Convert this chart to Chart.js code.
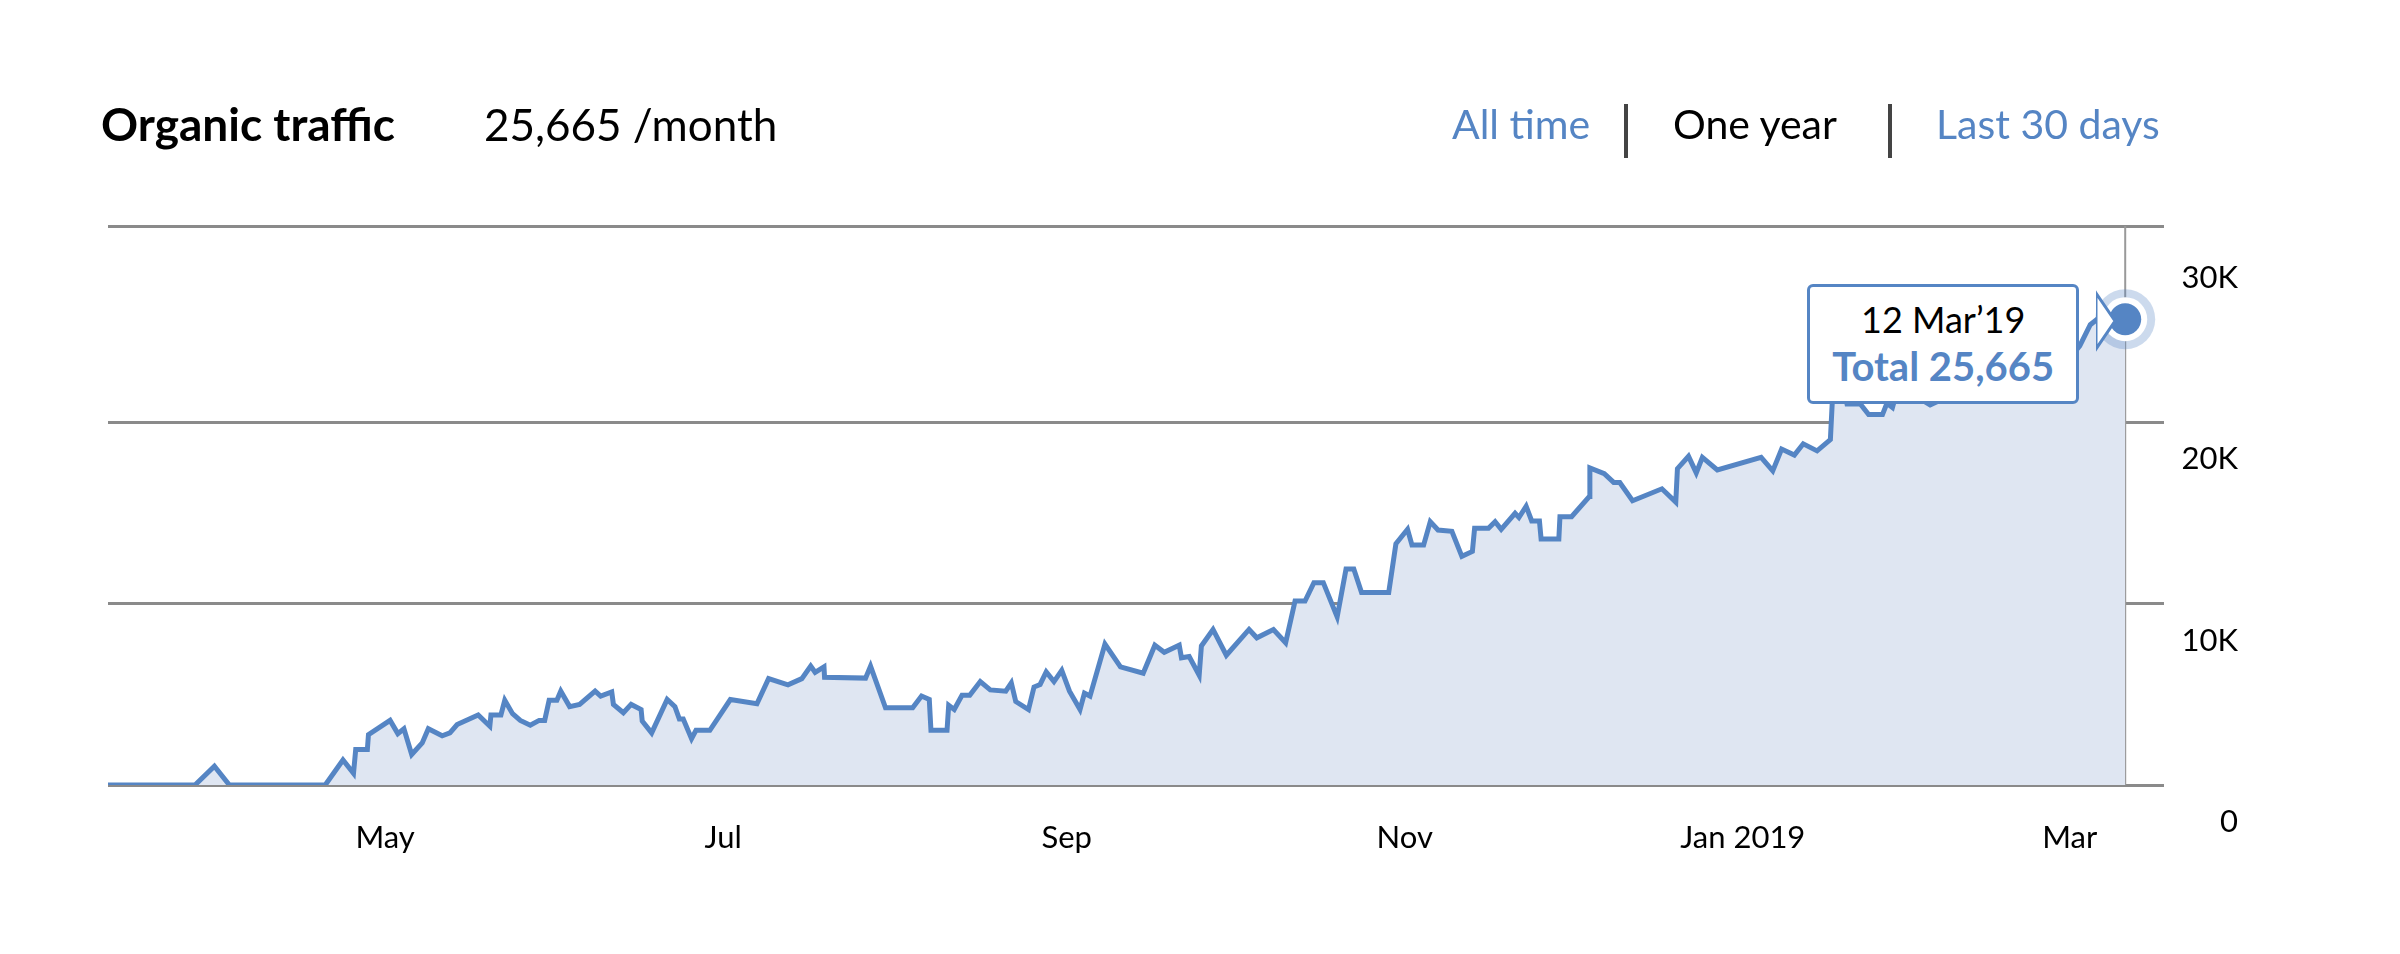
<!DOCTYPE html>
<html>
<head>
<meta charset="utf-8">
<script src="https://cdn.jsdelivr.net/npm/chart.js@4"></script>
<style>
  body { margin: 0; background: #fff; font-family: Lato, "Open Sans", sans-serif; }
  #wrap { position: relative; width: 2400px; height: 954px; }
  canvas { position: absolute; left: 0; top: 0; }
  .hdr { position: absolute; top: 96px; font-size: 44px; line-height: 56px; white-space: nowrap; }
  #tip { position: absolute; width: 266px; height: 114px; border: 3px solid #5585c4; border-radius: 6px;
         background: #fff; text-align: center; box-sizing: content-box; }
  #tip .d { font-size: 36px; color: #000; margin-top: 10px; line-height: 44px; }
  #tip .t { font-size: 40px; color: #5585c4; font-weight: bold; line-height: 50px; }
  #arrow { position: absolute; }
</style>
</head>
<body>
<div id="wrap">
  <canvas id="c" width="2400" height="954"></canvas>
  <div class="hdr" style="left:101px;font-weight:bold;font-size:46px">Organic traffic</div>
  <div class="hdr" style="left:484px">25,665 /month</div>
  <div class="hdr" style="left:1452px;color:#5585c4;font-size:41px">All time</div>
  <div style="position:absolute;left:1624px;top:104px;width:4px;height:54px;background:#444"></div>
  <div class="hdr" style="left:1673px;font-size:41px">One year</div>
  <div style="position:absolute;left:1888px;top:104px;width:4px;height:54px;background:#444"></div>
  <div class="hdr" style="left:1936px;color:#5585c4;font-size:41px">Last 30 days</div>
  <div id="tip"><div class="d">12 Mar’19</div><div class="t">Total 25,665</div></div>
  <svg id="arrow" width="40" height="80"><polygon points="0,8 19,36 0,64" fill="#fff" stroke="#5585c4" stroke-width="3"/><rect x="-3" y="9" width="3" height="54" fill="#fff"/></svg>
</div>
<script>
// days since 12 Mar 2018
const days = [0, 15.7, 19.2, 21.9, 39.2, 42.4, 44.3, 44.7, 46.8, 47.0, 50.9, 52.3, 53.4, 54.8, 56.7, 57.8, 60.3, 61.7, 63.0, 66.8,
  68.9, 69.1, 70.9, 71.6, 73.0, 74.4, 76.2, 77.8, 78.8, 79.6, 81.0, 81.7, 83.3, 85.1, 87.9, 88.9, 90.9, 91.2, 93.0, 94.4,
  96.2, 96.4, 98.1, 100.9, 102.3, 103.1, 103.8, 105.3, 106.1, 108.6, 112.3, 117.1, 119.2, 122.7, 125.2, 126.8, 127.6, 129.2, 129.3, 136.7,
  137.6, 140.3, 145.2, 146.8, 148.2, 148.5, 151.4, 151.7, 152.7, 154.1, 155.5, 157.4, 159.2, 162.0, 163.0, 163.8, 166.1, 167.1, 168.2, 169.3,
  170.7, 172.1, 173.5, 175.4, 176.2, 177.2, 179.9, 182.7, 186.8, 188.9, 190.6, 193.3, 193.7, 195.1, 196.9, 197.3, 199.4, 201.8, 205.9, 207.3,
  210.3, 212.5, 214.2, 216.0, 217.6, 219.3, 221.8, 223.4, 224.8, 226.2, 231.1, 232.4, 234.5, 235.3, 237.4, 238.6, 240.0, 242.5, 244.3, 246.2,
  246.6, 249.1, 250.3, 251.4, 253.9, 254.6, 255.9, 256.9, 258.3, 258.6, 261.8, 262.0, 264.1, 267.3, 267.4, 270.0, 271.7, 272.8, 275.1, 280.4,
  282.9, 283.2, 285.2, 286.6, 287.7, 290.4, 298.3, 300.4, 302.0, 304.3, 305.9, 308.4, 310.8, 311.2, 313.4, 313.8, 316.2, 317.7, 320.2, 321.0,
  322.0, 322.6, 326.7, 328.8, 331.5, 335, 338, 341, 345, 349, 352, 355.8, 357.7, 359.1, 364];
const traffic = [0, 0, 1030, 0, 0, 1380, 640, 1950, 1950, 2780, 3560, 2830, 3100, 1680, 2320, 3100, 2710, 2870, 3330, 3860,
  3240, 3860, 3860, 4670, 3930, 3560, 3290, 3560, 3560, 4670, 4670, 5170, 4320, 4440, 5170, 4900, 5130, 4440, 3980, 4440,
  4160, 3520, 2870, 4710, 4320, 3630, 3630, 2550, 3010, 3010, 4710, 4480, 5860, 5520, 5860, 6550, 6210, 6510, 5930, 5890,
  6550, 4250, 4250, 4900, 4710, 3010, 3010, 4390, 4160, 4940, 4940, 5700, 5240, 5170, 5630, 4600, 4160, 5400, 5540, 6230,
  5700, 6320, 5170, 4160, 5060, 4900, 7770, 6510, 6160, 7700, 7310, 7700, 7010, 7080, 6050, 7660, 8570, 7150, 8570, 8110,
  8570, 7840, 10140, 10140, 11150, 11150, 9260, 11900, 11900, 10600, 10600, 13290, 14090, 13220, 13220, 14510, 14050, 13980, 12600, 12870,
  14140, 14140, 14510, 14090, 14970, 14740, 15360, 14550, 14550, 13560, 13560, 14780, 14780, 15890, 17470, 17150, 16670, 16670, 15660, 16320,
  15590, 17430, 18110, 17200, 18050, 17360, 18050, 17310, 18510, 18180, 18800, 18410, 19030, 21450, 21560, 20990, 20990, 20410, 20410, 21030,
  20800, 21450, 21330, 20940, 21330, 21800, 22300, 21900, 22500, 22200, 22800, 24200, 25360, 25700, 25665];
const monthDays = [50, 111, 173, 234, 295, 354];
const monthLabels = ['May', 'Jul', 'Sep', 'Nov', 'Jan 2019', 'Mar'];
const yTicks = [0, 10000, 20000, 30000, 30800];
const yLabels = ['0', '10K', '20K', '30K', ''];

const blue = '#5585c4';
const last = days.length - 1;

const overlay = {
  id: 'overlay',
  beforeDatasetsDraw(chart) {
    const { ctx, chartArea, scales } = chart;
    const x = scales.x.getPixelForValue(days[last]);
    ctx.save();
    ctx.strokeStyle = '#999';
    ctx.lineWidth = 2;
    ctx.beginPath();
    ctx.moveTo(x, chartArea.top);
    ctx.lineTo(x, chartArea.bottom);
    ctx.stroke();
    ctx.restore();
  },
  afterDatasetsDraw(chart) {
    const { ctx, scales } = chart;
    const x = scales.x.getPixelForValue(days[last]);
    const y = scales.y.getPixelForValue(traffic[last]);
    ctx.save();
    ctx.fillStyle = 'rgba(85,133,196,0.3)';
    ctx.beginPath(); ctx.arc(x, y, 30, 0, Math.PI * 2); ctx.fill();
    ctx.fillStyle = '#fff';
    ctx.beginPath(); ctx.arc(x, y, 22, 0, Math.PI * 2); ctx.fill();
    ctx.fillStyle = blue;
    ctx.beginPath(); ctx.arc(x, y, 16, 0, Math.PI * 2); ctx.fill();
    ctx.restore();
    const tip = document.getElementById('tip');
    tip.style.left = (x - 318) + 'px';
    tip.style.top = (y - 35) + 'px';
    const ar = document.getElementById('arrow');
    ar.style.left = (x - 29) + 'px';
    ar.style.top = (y - 34) + 'px';
  }
};

new Chart(document.getElementById('c'), {
  type: 'line',
  data: {
    labels: days,
    datasets: [{
      data: days.map((d, i) => ({ x: d, y: traffic[i] })),
      borderColor: blue,
      borderWidth: 5,
      backgroundColor: '#dfe6f2',
      fill: 'origin',
      tension: 0,
      pointRadius: 0
    }]
  },
  options: {
    responsive: false,
    animation: false,
    layout: { padding: { left: 108, right: 162, top: 226, bottom: 79 } },
    plugins: { legend: { display: false }, tooltip: { enabled: false } },
    scales: {
      x: {
        type: 'linear', min: 0, max: 371,
        afterBuildTicks: s => { s.ticks = monthDays.map(v => ({ value: v })); },
        afterFit: s => { s.height = 90; },
        grid: { display: false },
        border: { display: false },
        ticks: {
          padding: 26, color: '#000', font: { family: 'Lato', size: 31 },
          maxRotation: 0, autoSkip: false,
          callback: (v) => monthLabels[monthDays.indexOf(v)]
        }
      },
      y: {
        position: 'right', min: 0, max: 30800,
        afterBuildTicks: s => { s.ticks = yTicks.map(v => ({ value: v })); },
        afterFit: s => { s.width = 74; },
        border: { display: false },
        grid: {
          drawTicks: false, lineWidth: 3,
          color: c => c.tick && c.tick.value === 30000 ? 'rgba(0,0,0,0)' : '#8a8a8a'
        },
        ticks: {
          crossAlign: 'far', labelOffset: 37, padding: 0, color: '#000',
          font: { family: 'Lato', size: 31 }, autoSkip: false,
          callback: (v) => yLabels[yTicks.indexOf(v)]
        }
      }
    }
  },
  plugins: [overlay]
});
</script>
</body>
</html>
